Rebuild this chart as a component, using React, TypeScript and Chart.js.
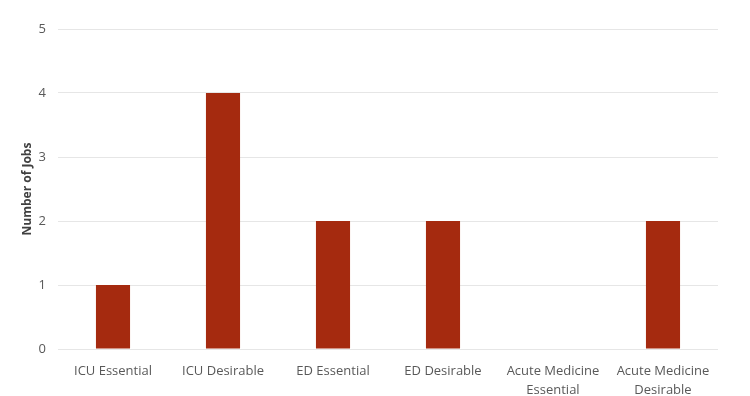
import React, { useEffect, useRef } from "react";
import { Chart, registerables } from "chart.js";

Chart.register(...registerables);

const categories: (string | string[])[] = [
  "ICU Essential",
  "ICU Desirable",
  "ED Essential",
  "ED Desirable",
  ["Acute Medicine", "Essential"],
  ["Acute Medicine", "Desirable"],
];
const jobs = [1, 4, 2, 2, 0, 2];
const yTicks = [0, 1, 2, 3, 4, 5];

export default function App() {
  const ref = useRef<HTMLCanvasElement | null>(null);
  useEffect(() => {
    document.body.style.margin = "0";
    const ctx = ref.current!;
    const chart = new Chart(ctx, {
      type: "bar",
      data: {
        labels: categories,
        datasets: [
          {
            data: jobs,
            backgroundColor: "#A52A0F",
            categoryPercentage: 1,
            barPercentage: 0.31,
          },
        ],
      },
      options: {
        animation: false,
        responsive: false,
        layout: { padding: { left: 20, top: 29, right: 32, bottom: 0 } },
        plugins: { legend: { display: false }, tooltip: { enabled: false } },
        scales: {
          x: {
            grid: { display: false },
            border: { display: false },
            ticks: {
              color: "#595959",
              font: { family: "Open Sans", size: 13, lineHeight: 1.45 },
              maxRotation: 0,
              autoSkip: false,
              padding: 5,
            },
            afterFit: (s: any) => {
              s.height = 47;
            },
          },
          y: {
            min: 0,
            max: 5,
            afterBuildTicks: (s: any) => {
              s.ticks = yTicks.map((v) => ({ value: v }));
            },
            grid: { color: "#e6e6e6", drawTicks: false },
            border: { display: false },
            ticks: {
              color: "#595959",
              font: { family: "Open Sans", size: 13 },
              padding: 12,
            },
            title: {
              display: true,
              text: "Number of Jobs",
              color: "#404040",
              font: { family: "Open Sans", size: 12, weight: "bold" },
              padding: 0,
            },
            afterFit: (s: any) => {
              s.width = 38;
            },
          },
        },
      },
    });
    return () => chart.destroy();
  }, []);
  return (
    <div style={{ width: 750, height: 396, background: "#fff" }}>
      <canvas ref={ref} width={750} height={396} />
    </div>
  );
}
